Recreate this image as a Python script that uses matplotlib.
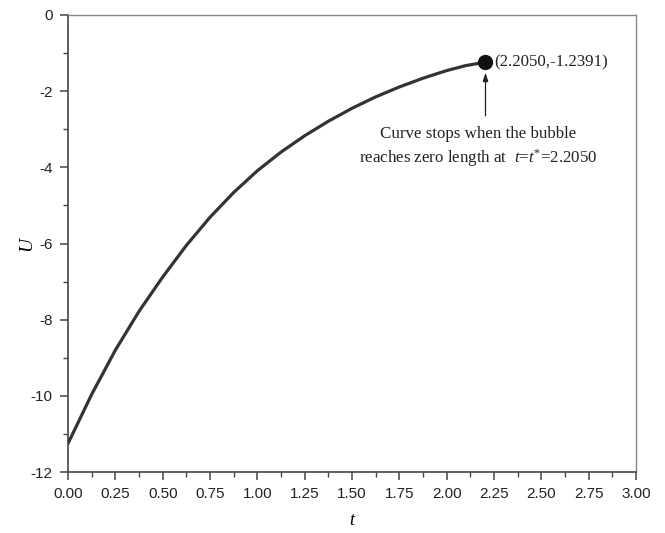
import matplotlib
matplotlib.use("Agg")
import matplotlib.pyplot as plt
from matplotlib.ticker import MultipleLocator

plt.rcParams["mathtext.fontset"] = "custom"
plt.rcParams["mathtext.rm"] = "Liberation Serif"
plt.rcParams["mathtext.it"] = "Liberation Serif:italic"

# Velocity U as a function of time t until the bubble collapses
t_vals = [0.0, 0.125, 0.25, 0.375, 0.5, 0.625, 0.75, 0.875, 1.0, 1.125,
          1.25, 1.375, 1.5, 1.625, 1.75, 1.875, 2.0, 2.1, 2.205]
u_vals = [-11.25, -9.96, -8.80, -7.78, -6.88, -6.05, -5.31, -4.66, -4.09, -3.60,
          -3.17, -2.79, -2.45, -2.15, -1.89, -1.66, -1.46, -1.33, -1.2391]

t_stop = 2.205
u_stop = -1.2391
stop_label = "(2.2050,-1.2391)"
note_line1 = "Curve stops when the bubble"
note_line2 = r"reaches zero length at  $t$=$t^{*}$=2.2050"

x_ticks = [0.0, 0.25, 0.5, 0.75, 1.0, 1.25, 1.5, 1.75, 2.0, 2.25, 2.5, 2.75, 3.0]
y_ticks = [0, -2, -4, -6, -8, -10, -12]

fig = plt.figure(figsize=(6.65, 5.33), dpi=100)
ax = fig.add_axes([0.1023, 0.1144, 0.8541, 0.8575])

ax.plot(t_vals, u_vals, color="#333333", lw=2.3, solid_capstyle="round",
        solid_joinstyle="round", zorder=3)
ax.plot([t_stop], [u_stop], "o", color="#111111", ms=10, zorder=4)

serif = "Liberation Serif"
ax.text(t_stop + 0.045, u_stop, stop_label, fontsize=12.2, family=serif,
        va="center", ha="left", color="#222222")
ax.annotate("", xy=(t_stop, u_stop - 0.2), xytext=(t_stop, -2.72),
            arrowprops=dict(arrowstyle="-|>,head_length=0.5,head_width=0.16",
                            color="#222222", lw=0.9))
ax.text(2.166, -3.12, note_line1, fontsize=12.2, family=serif,
        ha="center", va="center", color="#222222")
ax.text(2.166, -3.76, note_line2, fontsize=12.2, family=serif,
        ha="center", va="center", color="#222222")

ax.set_xlim(0, 3)
ax.set_ylim(-12, 0)
ax.set_xticks(x_ticks)
ax.set_xticklabels([f"{v:.2f}" for v in x_ticks])
ax.set_yticks(y_ticks)
ax.set_yticklabels([str(v) for v in y_ticks])
ax.xaxis.set_minor_locator(MultipleLocator(0.125))
ax.yaxis.set_minor_locator(MultipleLocator(1))

for side in ["left", "bottom"]:
    ax.spines[side].set_color("#444444")
    ax.spines[side].set_linewidth(1.2)
for side in ["top", "right"]:
    ax.spines[side].set_color("#888888")
    ax.spines[side].set_linewidth(1.0)

ax.tick_params(which="major", direction="out", length=6, width=1.1,
               color="#444444", labelsize=11, labelcolor="#222222", pad=5)
ax.tick_params(which="minor", direction="out", length=3.5, width=1.0,
               color="#444444")
for lbl in ax.get_xticklabels() + ax.get_yticklabels():
    lbl.set_family("Liberation Sans")

ax.set_xlabel("t", fontsize=13, family=serif, style="italic", labelpad=8)
ax.set_ylabel("U", fontsize=14, family=serif, style="italic", labelpad=-3)

fig.savefig("out.png", dpi=100)
